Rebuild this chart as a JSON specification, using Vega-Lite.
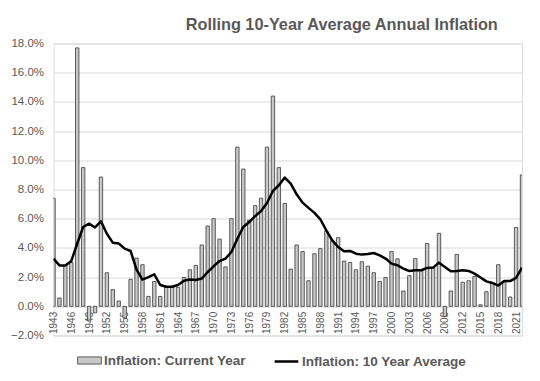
{
  "$schema": "https://vega.github.io/schema/vega-lite/v6.json",
  "width": 468.5,
  "height": 292,
  "autosize": "none",
  "padding": {"left": 53.5, "top": 43.5, "right": 18, "bottom": 45.5},
  "background": "white",
  "config": {"axisY": {"labelOverlap": false}, "axisX": {"labelOverlap": false}},
  "title": {
    "text": "Rolling 10-Year Average Annual Inflation",
    "anchor": "middle",
    "dx": 54,
    "offset": 4,
    "font": "Liberation Sans",
    "fontSize": 16.3,
    "fontWeight": "bold",
    "color": "#595959"
  },
  "data": {
    "values": [
      {"year": 1943, "current": 7.4, "avg": 3.27},
      {"year": 1944, "current": 0.57, "avg": 2.8},
      {"year": 1945, "current": 2.8, "avg": 2.8},
      {"year": 1946, "current": 3.0, "avg": 3.1},
      {"year": 1947, "current": 17.7, "avg": 4.3},
      {"year": 1948, "current": 9.5, "avg": 5.43},
      {"year": 1949, "current": -0.95, "avg": 5.66},
      {"year": 1950, "current": -0.45, "avg": 5.4},
      {"year": 1951, "current": 8.85, "avg": 5.82},
      {"year": 1952, "current": 2.3, "avg": 4.97},
      {"year": 1953, "current": 1.14, "avg": 4.36},
      {"year": 1954, "current": 0.36, "avg": 4.3},
      {"year": 1955, "current": -0.8, "avg": 3.95},
      {"year": 1956, "current": 1.85, "avg": 3.79},
      {"year": 1957, "current": 3.3, "avg": 2.51},
      {"year": 1958, "current": 2.85, "avg": 1.83},
      {"year": 1959, "current": 0.68, "avg": 2.0},
      {"year": 1960, "current": 1.7, "avg": 2.19},
      {"year": 1961, "current": 0.68, "avg": 1.46},
      {"year": 1962, "current": 1.3, "avg": 1.34},
      {"year": 1963, "current": 1.3, "avg": 1.34},
      {"year": 1964, "current": 1.3, "avg": 1.46},
      {"year": 1965, "current": 1.97, "avg": 1.75},
      {"year": 1966, "current": 2.5, "avg": 1.84},
      {"year": 1967, "current": 2.8, "avg": 1.8},
      {"year": 1968, "current": 4.2, "avg": 1.9},
      {"year": 1969, "current": 5.5, "avg": 2.35},
      {"year": 1970, "current": 6.0, "avg": 2.74},
      {"year": 1971, "current": 4.6, "avg": 3.1},
      {"year": 1972, "current": 2.7, "avg": 3.27},
      {"year": 1973, "current": 6.0, "avg": 3.72},
      {"year": 1974, "current": 10.9, "avg": 4.63},
      {"year": 1975, "current": 9.4, "avg": 5.43},
      {"year": 1976, "current": 5.9, "avg": 5.77},
      {"year": 1977, "current": 6.9, "avg": 6.18},
      {"year": 1978, "current": 7.4, "avg": 6.53},
      {"year": 1979, "current": 10.9, "avg": 7.08},
      {"year": 1980, "current": 14.4, "avg": 7.9},
      {"year": 1981, "current": 9.5, "avg": 8.29},
      {"year": 1982, "current": 7.05, "avg": 8.82},
      {"year": 1983, "current": 2.55, "avg": 8.4},
      {"year": 1984, "current": 4.2, "avg": 7.67},
      {"year": 1985, "current": 3.75, "avg": 7.1},
      {"year": 1986, "current": 1.75, "avg": 6.74},
      {"year": 1987, "current": 3.6, "avg": 6.4},
      {"year": 1988, "current": 3.95, "avg": 5.96},
      {"year": 1989, "current": 5.15, "avg": 5.2},
      {"year": 1990, "current": 4.5, "avg": 4.52},
      {"year": 1991, "current": 4.7, "avg": 4.06},
      {"year": 1992, "current": 3.1, "avg": 3.77},
      {"year": 1993, "current": 3.0, "avg": 3.79},
      {"year": 1994, "current": 2.5, "avg": 3.6},
      {"year": 1995, "current": 3.05, "avg": 3.54},
      {"year": 1996, "current": 2.75, "avg": 3.58},
      {"year": 1997, "current": 2.3, "avg": 3.65},
      {"year": 1998, "current": 1.7, "avg": 3.49},
      {"year": 1999, "current": 1.97, "avg": 3.27},
      {"year": 2000, "current": 3.75, "avg": 2.92},
      {"year": 2001, "current": 3.25, "avg": 2.81},
      {"year": 2002, "current": 1.05, "avg": 2.58},
      {"year": 2003, "current": 2.1, "avg": 2.42},
      {"year": 2004, "current": 3.27, "avg": 2.47},
      {"year": 2005, "current": 2.47, "avg": 2.47},
      {"year": 2006, "current": 4.3, "avg": 2.63},
      {"year": 2007, "current": 2.65, "avg": 2.65},
      {"year": 2008, "current": 5.0, "avg": 2.99},
      {"year": 2009, "current": -0.7, "avg": 2.69},
      {"year": 2010, "current": 1.05, "avg": 2.4},
      {"year": 2011, "current": 3.55, "avg": 2.42},
      {"year": 2012, "current": 1.65, "avg": 2.47},
      {"year": 2013, "current": 1.75, "avg": 2.42},
      {"year": 2014, "current": 2.05, "avg": 2.24},
      {"year": 2015, "current": 0.1, "avg": 1.97},
      {"year": 2016, "current": 1.0, "avg": 1.71},
      {"year": 2017, "current": 1.6, "avg": 1.6},
      {"year": 2018, "current": 2.85, "avg": 1.42},
      {"year": 2019, "current": 1.68, "avg": 1.73},
      {"year": 2020, "current": 0.64, "avg": 1.73},
      {"year": 2021, "current": 5.4, "avg": 1.95},
      {"year": 2022, "current": 9.0, "avg": 2.64}
    ]
  },
  "encoding": {
    "x": {
      "field": "year",
      "type": "ordinal",
      "scale": {"type": "point", "padding": 0},
      "axis": {
        "title": null,
        "values": [1943,1946,1949,1952,1955,1958,1961,1964,1967,1970,1973,1976,1979,1982,1985,1988,1991,1994,1997,2000,2003,2006,2009,2012,2015,2018,2021],
        "labelAngle": 270,
        "labelFont": "Liberation Sans",
        "labelFontSize": 10,
        "labelColor": "#595959",
        "labelPadding": 5,
        "labelOverlap": false,
        "ticks": false,
        "grid": false,
        "domainColor": "#d9d9d9",
        "offset": -29.2,
        "zindex": 0
      }
    }
  },
  "resolve": {"scale": {"color": "independent"}, "legend": {"color": "independent"}},
  "layer": [
    {
      "mark": {"type": "bar", "width": 3.4, "stroke": "#3a3a3a", "strokeWidth": 0.8, "clip": true},
      "encoding": {
        "y": {
          "field": "current",
          "type": "quantitative",
          "scale": {"domain": [-2, 18], "nice": false, "zero": false},
          "axis": {
            "title": null,
            "values": [-2,0,2,4,6,8,10,12,14,16,18],
            "labelExpr": "format(datum.value, '.1f') + '%'",
            "labelFont": "Liberation Sans",
            "labelFontSize": 11.5,
            "labelColor": "#595959",
            "labelPadding": 10,
            "labelOverlap": false,
            "domain": false,
            "ticks": false,
            "gridColor": "#d9d9d9",
            "gridWidth": 1
          }
        },
        "color": {
          "datum": "Inflation: Current Year",
          "type": "nominal",
          "scale": {"domain": ["Inflation: Current Year"], "range": ["#c8c8c8"]},
          "legend": {
            "title": null,
            "orient": "none",
            "legendX": 23.5,
            "legendY": 304.5,
            "labelFont": "Liberation Sans",
            "labelFontSize": 13.5,
            "labelFontWeight": "bold",
            "labelColor": "#595959",
            "labelOffset": 2,
            "labelLimit": 300,
            "symbolSize": 560,
            "symbolType": "M-1,-0.3H1V0.3H-1Z",
            "symbolStrokeColor": "#595959",
            "symbolStrokeWidth": 1
          }
        }
      }
    },
    {
      "mark": {"type": "line", "strokeWidth": 2.5, "strokeJoin": "round", "clip": true},
      "encoding": {
        "y": {
          "field": "avg",
          "type": "quantitative",
          "axis": {
            "title": null,
            "values": [-2,0,2,4,6,8,10,12,14,16,18],
            "labelExpr": "format(datum.value, '.1f') + '%'",
            "labelFont": "Liberation Sans",
            "labelFontSize": 11.5,
            "labelColor": "#595959",
            "labelPadding": 10,
            "labelOverlap": false,
            "domain": false,
            "ticks": false,
            "gridColor": "#d9d9d9",
            "gridWidth": 1
          }
        },
        "color": {
          "datum": "Inflation: 10 Year Average",
          "type": "nominal",
          "scale": {"domain": ["Inflation: 10 Year Average"], "range": ["#000000"]},
          "legend": {
            "title": null,
            "orient": "none",
            "legendX": 219.5,
            "legendY": 304.5,
            "labelFont": "Liberation Sans",
            "labelFontSize": 13.5,
            "labelFontWeight": "bold",
            "labelColor": "#595959",
            "labelOffset": 2,
            "labelLimit": 300,
            "symbolSize": 560,
            "symbolType": "stroke",
            "symbolStrokeWidth": 2.5
          }
        }
      }
    }
  ]
}
